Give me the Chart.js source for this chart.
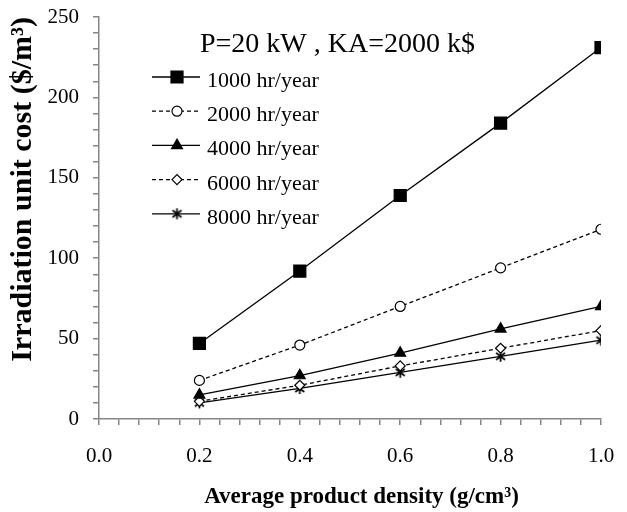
<!DOCTYPE html>
<html>
<head>
<meta charset="utf-8">
<script src="https://cdn.jsdelivr.net/npm/chart.js@4.4.0/dist/chart.umd.min.js"></script>
<style>
  html, body { margin: 0; padding: 0; background: #fff; }
  #wrap { width: 627px; height: 512px; }
</style>
</head>
<body>
<div id="wrap"><canvas id="myChart" width="627" height="512"></canvas></div>
<script>
// values
var densities = [0.2, 0.4, 0.6, 0.8, 1.0];
var seriesNames = ['1000 hr/year', '2000 hr/year', '4000 hr/year', '6000 hr/year', '8000 hr/year'];
var cost1000 = [47, 92, 139, 184, 231];
var cost2000 = [24, 46, 70, 94, 118];
var cost4000 = [15, 27, 41, 56, 70];
var cost6000 = [11, 21, 33, 44, 55];
var cost8000 = [10, 19, 29, 39, 49];
var xTickLabels = [0.0, 0.2, 0.4, 0.6, 0.8, 1.0];
var yTickLabels = [0, 50, 100, 150, 200, 250];
var noteText = 'P=20 kW , KA=2000 k$';

var FONT = 'Liberation Serif';
var AXIS_GREY = '#868686';

// small asterisk marker (x with a vertical bar), like the original
function makeAsterisk() {
    var c = document.createElement('canvas');
    c.width = 13; c.height = 13;
    var g = c.getContext('2d');
    g.strokeStyle = '#000';
    g.lineWidth = 1.7;
    g.beginPath();
    g.moveTo(6.5, 1); g.lineTo(6.5, 12);
    g.moveTo(2, 3); g.lineTo(11, 10);
    g.moveTo(11, 3); g.lineTo(2, 10);
    g.stroke();
    return c;
}

function series(label, values, style, radius, fill, dashed) {
    return {
        label: label,
        data: values.map(function (v, i) { return { x: densities[i], y: v }; }),
        borderColor: '#000',
        borderWidth: 1.3,
        borderDash: dashed ? [4, 3] : [],
        backgroundColor: fill,
        pointStyle: style,
        pointRadius: radius,
        pointHoverRadius: radius,
        pointBackgroundColor: fill,
        pointBorderColor: '#000',
        pointBorderWidth: 1.2,
        tension: 0,
        fill: false
    };
}

var datasets = [
    series(seriesNames[0], cost1000, 'rect', 8.5, '#000', false),
    series(seriesNames[1], cost2000, 'circle', 5, '#fff', true),
    series(seriesNames[2], cost4000, 'triangle', 6.3, '#000', false),
    series(seriesNames[3], cost6000, 'rectRot', 5, '#fff', true),
    series(seriesNames[4], cost8000, makeAsterisk(), 6, '#000', false)
];

function isLabelled(v, list) {
    return list.some(function (t) { return Math.abs(t - v) < 1e-6; });
}

// legend + note inside the plot, drawn from the dataset styles
var insideLegend = {
    id: 'insideLegend',
    afterDraw: function (chart) {
        var ctx = chart.ctx;
        ctx.save();
        ctx.fillStyle = '#000';
        ctx.font = '28px "' + FONT + '"';
        ctx.textBaseline = 'alphabetic';
        ctx.fillText(noteText, 200, 52);

        chart.data.datasets.forEach(function (ds, i) {
            var y = 77 + i * 34.2;
            ctx.strokeStyle = '#000';
            ctx.lineWidth = 1.3;
            ctx.setLineDash(ds.borderDash);
            ctx.beginPath();
            ctx.moveTo(152, y);
            ctx.lineTo(200, y);
            ctx.stroke();
            ctx.setLineDash([]);
            ctx.fillStyle = ds.pointBackgroundColor;
            ctx.lineWidth = ds.pointBorderWidth;
            Chart.helpers.drawPoint(ctx, {
                pointStyle: ds.pointStyle,
                radius: ds.pointRadius,
                rotation: 0,
                borderWidth: ds.pointBorderWidth
            }, 177, y);
            ctx.fillStyle = '#000';
            ctx.font = '22px "' + FONT + '"';
            ctx.fillText(ds.label, 207, y + 10);
        });
        ctx.restore();
    }
};

new Chart(document.getElementById('myChart'), {
    type: 'line',
    data: { datasets: datasets },
    options: {
        responsive: false,
        animation: false,
        events: [],
        layout: { padding: { top: 17, right: 26, left: 0, bottom: 0 } },
        plugins: { legend: { display: false }, tooltip: { enabled: false } },
        scales: {
            x: {
                type: 'linear',
                min: 0,
                max: 1,
                ticks: {
                    stepSize: 0.04,
                    autoSkip: false,
                    maxRotation: 0,
                    padding: 19,
                    color: '#000',
                    font: { family: FONT, size: 21 },
                    callback: function (v) { return isLabelled(v, xTickLabels) ? v.toFixed(1) : ''; }
                },
                grid: { drawOnChartArea: false, drawTicks: true, tickLength: 6, color: AXIS_GREY, lineWidth: 1.5 },
                border: { color: AXIS_GREY, width: 1.5 },
                title: {
                    display: true,
                    text: '    Average product density (g/cm³)',
                    color: '#000',
                    font: { family: FONT, size: 23, weight: 'bold' },
                    padding: { top: 0, bottom: 1 }
                },
                afterFit: function (s) {
                    s.height = 93;
                    s.paddingLeft = 0;
                    s.paddingRight = 0;
                }
            },
            y: {
                min: 0,
                max: 250,
                ticks: {
                    stepSize: 10,
                    autoSkip: false,
                    padding: 14,
                    color: '#000',
                    font: { family: FONT, size: 21 },
                    callback: function (v) { return isLabelled(v, yTickLabels) ? String(v) : ''; }
                },
                grid: { drawOnChartArea: false, drawTicks: true, tickLength: 6, color: AXIS_GREY, lineWidth: 1.5 },
                border: { color: AXIS_GREY, width: 1.5 },
                title: {
                    display: true,
                    text: 'Irradiation unit cost ($/m³)',
                    align: 'end',
                    color: '#000',
                    font: { family: FONT, size: 30, weight: 'bold' },
                    padding: { top: 5, bottom: 0 }
                },
                afterFit: function (s) {
                    s.width = 99;
                    s.paddingTop = 0;
                    s.paddingBottom = 0;
                }
            }
        }
    },
    plugins: [insideLegend]
});
</script>
</body>
</html>
